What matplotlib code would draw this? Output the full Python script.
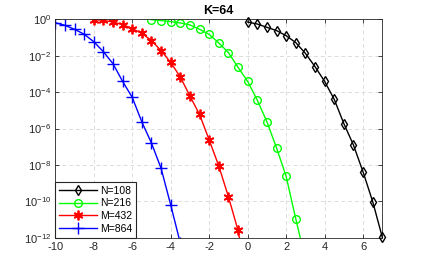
import numpy as np
import matplotlib
matplotlib.use("Agg")
import matplotlib.pyplot as plt
from matplotlib.ticker import FixedLocator, FixedFormatter, NullLocator

plt.rcParams['font.family'] = ['Liberation Sans', 'DejaVu Sans']
plt.rcParams['mathtext.fontset'] = 'custom'
plt.rcParams['mathtext.rm'] = 'Liberation Sans'
plt.rcParams['mathtext.it'] = 'Liberation Sans'

# Data (log10 of values)
x_n108 = [0, 0.5, 1, 1.5, 2, 2.5, 3, 3.5, 4, 4.5, 5, 5.5, 6, 6.5, 7]
lg_n108 = [-0.15, -0.26, -0.44, -0.62, -0.9, -1.28, -1.87, -2.6, -3.41, -4.40,
           -5.73, -6.91, -8.39, -10.02, -11.98]

x_n216 = [-5, -4.5, -4, -3.5, -3, -2.5, -2, -1.5, -1, -0.5, 0, 0.5, 1, 1.5, 2, 2.5, 3]
lg_n216 = [-0.02, -0.07, -0.13, -0.2, -0.31, -0.55, -0.83, -1.3, -1.83, -2.64,
           -3.41, -4.44, -5.63, -7.06, -8.63, -10.96, -13.2]

x_m432 = [-8, -7.5, -7, -6.5, -6, -5.5, -5, -4.5, -4, -3.5, -3, -2.5, -2, -1.5, -1, -0.5, 0]
lg_m432 = [-0.02, -0.06, -0.15, -0.29, -0.51, -0.77, -1.17, -1.72, -2.37, -3.17,
           -4.22, -5.23, -6.63, -8.06, -9.75, -11.6, -14.5]

x_m864 = [-10, -9.5, -9, -8.5, -8, -7.5, -7, -6.5, -6, -5.5, -5, -4.5, -4, -3.5]
lg_m864 = [-0.19, -0.33, -0.55, -0.82, -1.23, -1.78, -2.44, -3.41, -4.29, -5.64,
           -6.8, -8.19, -10.2, -12.3]

labels = ['N=108', 'N=216', 'M=432', 'M=864']
title = 'K=64'
xticks = [-10, -8, -6, -4, -2, 0, 2, 4, 6]
yexp = [0, -2, -4, -6, -8, -10, -12]

dark = '#262626'
fig = plt.figure(figsize=(4.22, 2.68), dpi=100)
ax = fig.add_axes([0.131, 0.113, 0.775, 0.815])

ax.plot(x_n108, 10.0 ** np.array(lg_n108), color='k', lw=1.0, marker='d', ms=5.5,
        mfc='none', mew=1.0, label=labels[0], clip_on=False, zorder=3)
ax.plot(x_n216, 10.0 ** np.array(lg_n216), color='#00ff00', lw=1.0, marker='o', ms=5.5,
        mfc='none', mew=1.0, label=labels[1])
ax.plot(x_m432, 10.0 ** np.array(lg_m432), color='#ff0000', lw=1.0, marker=(6, 2, 0), ms=7,
        mfc='none', mew=1.3, label=labels[2])
ax.plot(x_m864, 10.0 ** np.array(lg_m864), color='#0000ff', lw=1.0, marker='+', ms=8,
        mew=1.0, label=labels[3])

ax.set_yscale('log')
ax.set_xlim(-10, 7)
ax.set_ylim(1e-12, 1e0)
ax.xaxis.set_major_locator(FixedLocator(xticks))
ax.set_xticklabels([str(t) for t in xticks])
ax.yaxis.set_major_locator(FixedLocator([10.0 ** e for e in yexp]))
ax.yaxis.set_major_formatter(FixedFormatter(['$10^{%d}$' % e for e in yexp]))
ax.yaxis.set_minor_locator(NullLocator())
ax.xaxis.set_minor_locator(NullLocator())

ax.tick_params(direction='in', top=True, right=True, length=3, width=0.6,
               colors=dark, labelsize=8, pad=3)
for s in ax.spines.values():
    s.set_color(dark)
    s.set_linewidth(0.6)
ax.grid(True, linestyle=(0, (4, 3)), color='#dcdcdc', linewidth=0.7)
ax.set_axisbelow(True)

ax.set_title(title, fontsize=9, fontweight='bold', pad=4, color='k')

leg = ax.legend(loc='lower left', fontsize=7.5, frameon=True, fancybox=False,
                edgecolor=dark, borderaxespad=0, handlelength=3.6,
                handletextpad=0.3, labelspacing=0.25, borderpad=0.4)
leg.get_frame().set_linewidth(0.8)
leg.get_frame().set_alpha(1)

fig.savefig('out.png', dpi=100)
